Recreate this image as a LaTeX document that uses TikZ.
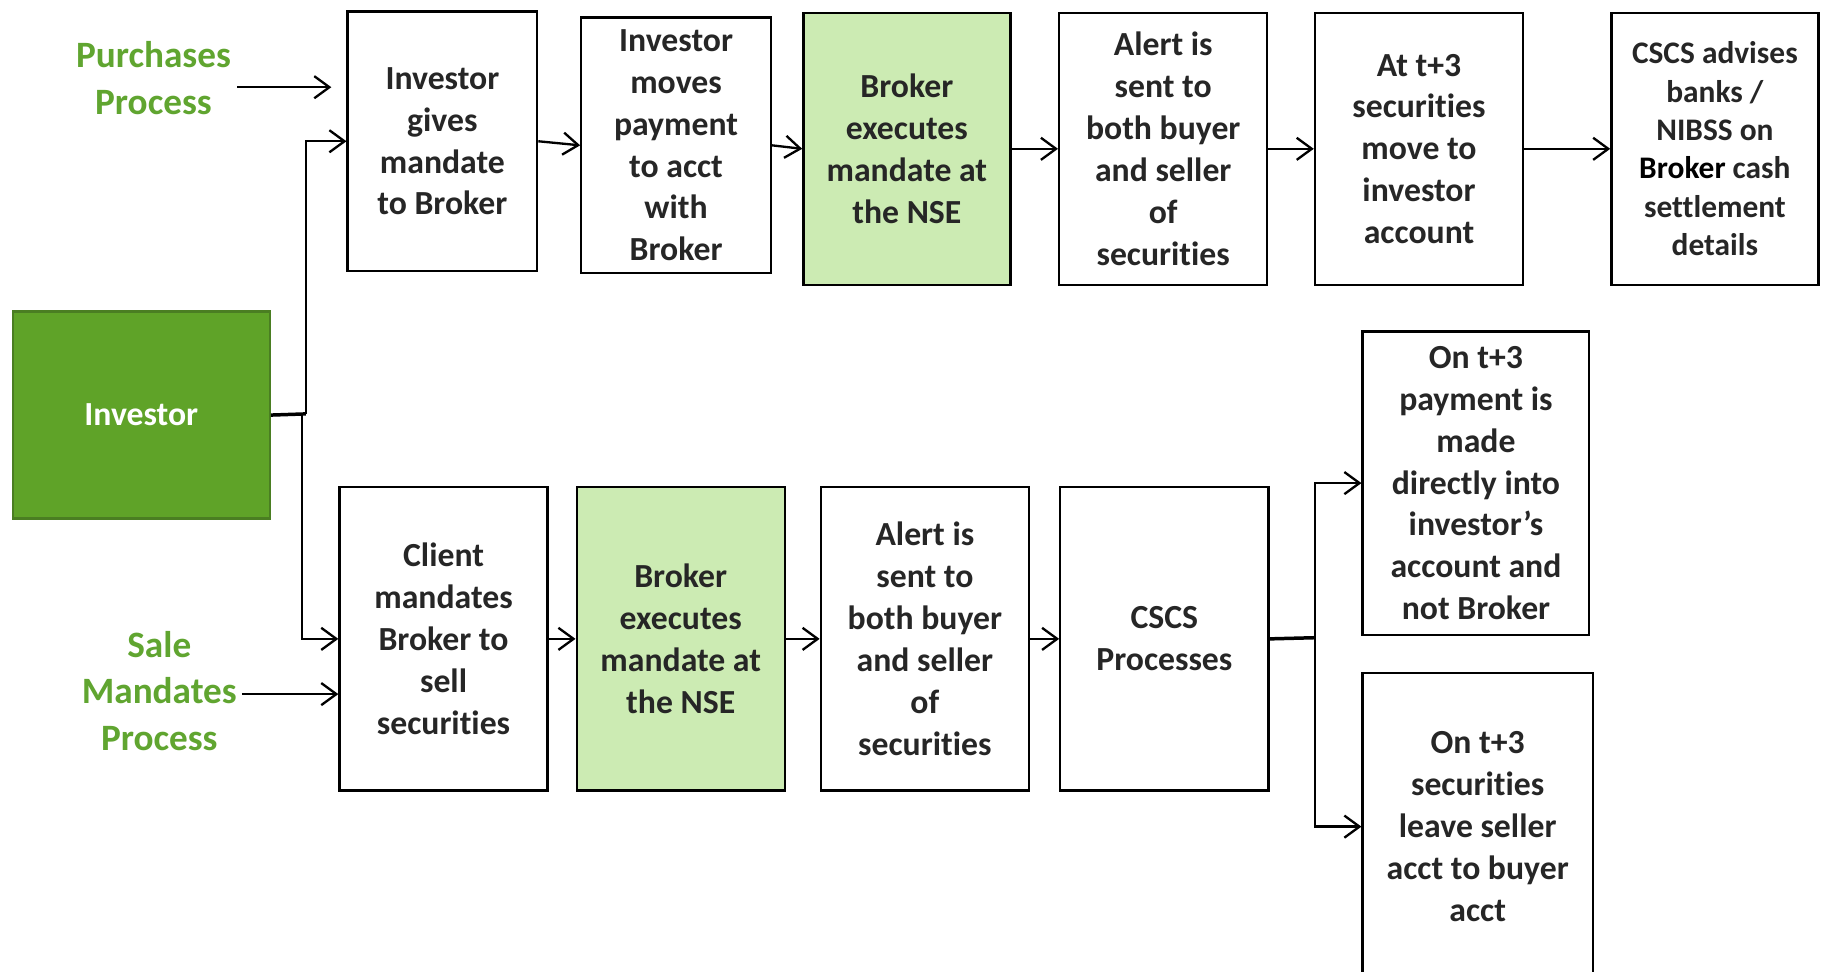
\documentclass[tikz,border=0pt]{standalone}
\usepackage{fontspec}
\setmainfont{Carlito}[Ligatures=NoCommon]
\usetikzlibrary{arrows.meta}
\definecolor{boxtext}{HTML}{262626}
\definecolor{lblgreen}{HTML}{60A530}
\definecolor{invfill}{HTML}{5FA328}
\definecolor{invborder}{HTML}{4A7E22}
\definecolor{lightgreen}{HTML}{CCEBB3}
\begin{document}
\begin{tikzpicture}[x=1pt,y=-1pt,
  box/.style={draw=black, line width=2pt, inner sep=0pt, align=center, anchor=north west, text=boxtext, font=\fontsize{29}{36}\selectfont\bfseries},
  greenbox/.style={box, fill=lightgreen},
  lbl/.style={align=center, text=lblgreen, font=\fontsize{32}{40}\selectfont\bfseries},
  conn/.style={line width=2pt, -{Straight Barb[length=13pt,width=19pt,line width=2pt]}},
  heavy/.style={line width=3pt}
]
\clip (0,0) rectangle (1568,836);
\fill[white] (0,0) rectangle (1568,836);

% labels
\node[lbl] (purch) at (132,67) {Purchases\\Process};
\node[lbl] (sale) at (137,594) {Sale\\Mandates\\Process};

% investor
\node[box, draw=invborder, fill=invfill, text=white, minimum width=221pt, minimum height=178pt] (inv) at (10,267) {Investor};

% top row
\node[box, minimum width=163pt, minimum height=223pt] (t1) at (298,9) {Investor\\gives\\mandate\\to Broker};
\node[box, minimum width=163pt, minimum height=220pt] (t2) at (499,14) {Investor\\moves\\payment\\to acct\\with\\Broker};
\node[greenbox, minimum width=178pt, minimum height=234pt] (t3) at (690,10) {Broker\\executes\\mandate at\\the NSE};
\node[box, minimum width=179pt, minimum height=234pt] (t4) at (910,10) {Alert is\\sent to\\both buyer\\and seller\\of\\securities};
\node[box, minimum width=179pt, minimum height=234pt] (t5) at (1130,10) {At t+3\\securities\\move to\\investor\\account};
\node[box, minimum width=178pt, minimum height=234pt, font=\fontsize{27}{33}\selectfont\bfseries] (t6) at (1385,10) {CSCS advises\\banks /\\NIBSS on\\{\color{black}Broker} cash\\settlement\\details};

% bottom row
\node[box, minimum width=179pt, minimum height=261pt] (b1) at (291,418) {Client\\mandates\\Broker to\\sell\\securities};
\node[greenbox, minimum width=179pt, minimum height=261pt] (b2) at (495,418) {Broker\\executes\\mandate at\\the NSE};
\node[box, minimum width=179pt, minimum height=261pt] (b3) at (705,418) {Alert is\\sent to\\both buyer\\and seller\\of\\securities};
\node[box, minimum width=179pt, minimum height=261pt] (b4) at (911,418) {CSCS\\Processes};
\node[box, minimum width=195pt, minimum height=261pt] (r1) at (1171,284) {On t+3\\payment is\\made\\directly into\\investor’s\\account and\\not Broker};
\node[box, minimum width=198pt, minimum height=264pt] (r2) at (1171,578) {On t+3\\securities\\leave seller\\acct to buyer\\acct};

% coordinates for free ends
\coordinate (pstart) at (204,75);
\coordinate (pend) at (285,75);
\coordinate (sstart) at (208,597);
\coordinate (jup) at (263,356);
\coordinate (jdown) at (260,356);
\coordinate (jr) at (1131,548.5);

% connectors
\draw[conn] (pstart) -- (pend);
\draw[conn] (sstart) -- (sstart -| b1.west);
\draw[heavy] (inv.east) -- (jup);
\draw[conn] (jup) |- (t1.west);
\draw[conn] (jdown) |- (b1.west);
\draw[conn] (t1.east) -- (t2.west);
\draw[conn] (t2.east) -- (t3.west);
\draw[conn] (t3.east) -- (t4.west);
\draw[conn] (t4.east) -- (t5.west);
\draw[conn] (t5.east) -- (t6.west);
\draw[conn] (b1.east) -- (b2.west);
\draw[conn] (b2.east) -- (b3.west);
\draw[conn] (b3.east) -- (b4.west);
\draw[heavy] (b4.east) -- (jr);
\draw[conn] (jr) |- (r1.west);
\draw[conn] (jr) |- (r2.west);
\end{tikzpicture}
\end{document}
